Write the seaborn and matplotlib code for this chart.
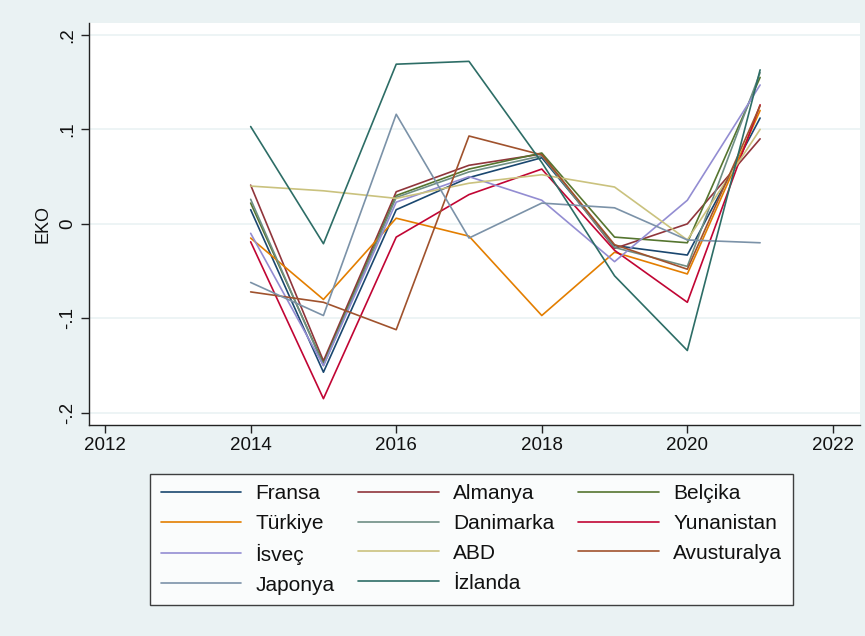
import matplotlib
matplotlib.use("Agg")
import matplotlib.pyplot as plt
import seaborn as sns
import pandas as pd
from matplotlib.lines import Line2D

# EKO values per country, 2014-2021
years = [2014, 2015, 2016, 2017, 2018, 2019, 2020, 2021]
fransa = [0.015, -0.157, 0.015, 0.049, 0.070, -0.023, -0.033, 0.112]
almanya = [0.041, -0.145, 0.034, 0.062, 0.074, -0.026, 0.000, 0.090]
belcika = [0.022, -0.148, 0.030, 0.058, 0.075, -0.014, -0.020, 0.155]
turkiye = [-0.015, -0.080, 0.006, -0.013, -0.097, -0.030, -0.053, 0.120]
danimarka = [0.026, -0.150, 0.028, 0.055, 0.072, -0.025, -0.045, 0.160]
yunanistan = [-0.019, -0.185, -0.014, 0.031, 0.058, -0.028, -0.083, 0.126]
isvec = [-0.010, -0.150, 0.023, 0.050, 0.025, -0.040, 0.025, 0.147]
abd = [0.040, 0.035, 0.027, 0.043, 0.052, 0.039, -0.017, 0.100]
avusturalya = [-0.072, -0.083, -0.112, 0.093, 0.073, -0.022, -0.048, 0.125]
japonya = [-0.062, -0.097, 0.116, -0.015, 0.022, 0.017, -0.017, -0.020]
izlanda = [0.103, -0.021, 0.169, 0.172, 0.065, -0.055, -0.134, 0.163]

countries = ["Fransa", "Almanya", "Belçika", "Türkiye", "Danimarka", "Yunanistan",
             "İsveç", "ABD", "Avusturalya", "Japonya", "İzlanda"]
series = [fransa, almanya, belcika, turkiye, danimarka, yunanistan,
          isvec, abd, avusturalya, japonya, izlanda]

# Stata s2color palette
colors = ["#1a476f", "#90353b", "#55752f", "#e37e00", "#6e8e84", "#c10534",
          "#938dd2", "#cac27e", "#a0522d", "#7b92a8", "#2d6d66"]
palette = dict(zip(countries, colors))

df = pd.DataFrame({
    "year": years * len(countries),
    "EKO": [v for s in series for v in s],
    "country": [c for c in countries for _ in years],
})

sns.set_style("white")
plt.rcParams["font.family"] = ["Liberation Sans", "DejaVu Sans"]

bg = "#eaf2f3"
fig = plt.figure(figsize=(8.65, 6.36), dpi=100, facecolor=bg)
ax = fig.add_axes([0.103, 0.332, 0.891, 0.632])
ax.set_facecolor("white")

sns.lineplot(data=df, x="year", y="EKO", hue="country", palette=palette,
             linewidth=1.2, ax=ax, legend=False, sort=False)

ax.set_xlim(2011.78, 2022.37)
ax.set_ylim(-0.2127, 0.2127)
ax.set_xticks([2012, 2014, 2016, 2018, 2020, 2022])
ax.set_yticks([0.2, 0.1, 0, -0.1, -0.2])
ax.set_yticklabels([".2", ".1", "0", "-.1", "-.2"], rotation=90, va="center")
ax.tick_params(axis="both", direction="out", length=6, width=1, color="#222222",
               labelsize=13.5, labelcolor="#111111", left=True, bottom=True, pad=3)
ax.yaxis.grid(True, color=bg, linewidth=1.2)
ax.set_axisbelow(True)
for side in ["top", "right"]:
    ax.spines[side].set_visible(False)
for side in ["left", "bottom"]:
    ax.spines[side].set_color("#222222")
    ax.spines[side].set_linewidth(1)
ax.set_xlabel("")
ax.set_ylabel("EKO", fontsize=13, labelpad=6, color="#111111")

# legend laid out row by row like Stata (matplotlib fills columns)
order = [0, 3, 6, 9, 1, 4, 7, 10, 2, 5, 8]
handles = [Line2D([0], [0], color=colors[i], linewidth=1.2) for i in order]
labels = [countries[i] for i in order]
leg = fig.legend(handles, labels, ncol=3, loc="center", bbox_to_anchor=(0.545, 0.152),
                 fontsize=15, frameon=True, fancybox=False, edgecolor="#111111",
                 handlelength=3.85, handletextpad=0.7, columnspacing=1.15,
                 labelspacing=0.52, borderpad=0.5)
leg.get_frame().set_linewidth(1)
leg.get_frame().set_facecolor("white")
for t in leg.get_texts():
    t.set_color("#111111")

fig.savefig("out.png", dpi=100, facecolor=bg)
